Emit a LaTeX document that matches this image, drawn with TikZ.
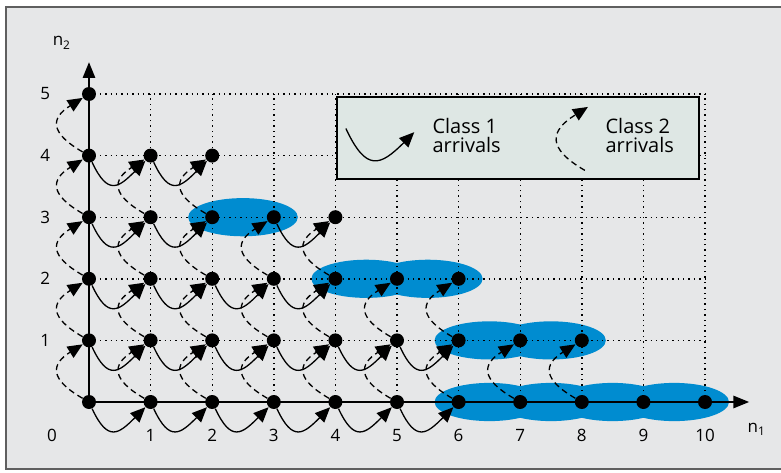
\documentclass[tikz,border=0pt]{standalone}
\usepackage{fontspec}
\setmainfont{Open Sans}
\usetikzlibrary{arrows.meta}

\definecolor{bggrey}{RGB}{230,231,232}
\definecolor{legendfill}{RGB}{222,231,228}
\definecolor{regionblue}{RGB}{0,140,208}
\definecolor{framegrey}{RGB}{95,95,95}

\begin{document}
\begin{tikzpicture}[x=30.8pt, y=30.8pt,
  font=\fontsize{8.5}{10}\selectfont,
  state/.style={circle, fill=black, inner sep=0pt, minimum size=7pt},
  gridline/.style={dotted, line width=0.7pt},
  axis/.style={line width=1.4pt, -{Triangle[length=8pt,width=6pt]}},
  class1/.style={line width=0.65pt, -{Triangle[length=7.5pt,width=6.5pt]}, out=-65, in=-135, looseness=1.8},
  class2/.style={line width=0.65pt, dash pattern=on 3pt off 2pt, -{Triangle[length=7.5pt,width=6.5pt]}, out=150, in=-148, looseness=1.8},
  region/.style={fill=regionblue},
  legendbox/.style={draw, line width=0.8pt, fill=legendfill, minimum width=181pt, minimum height=41pt, inner sep=0pt},
  legendtext/.style={font=\fontsize{10}{9.5}\selectfont, align=left, anchor=west, inner sep=0pt}
]
\useasboundingbox (-1.4448,-1.1364) rectangle (11.2338,6.526);
\fill[white] (-1.4448,-1.1364) rectangle (11.2338,6.526);
\filldraw[fill=bggrey, draw=framegrey, line width=0.9pt] (-1.347,-1.085) rectangle (11.4,6.41);

% blocking states
\foreach \x/\y in {2.5/3, 4.5/2, 5.5/2, 6.5/1, 7.5/1, 6.5/0, 7.5/0, 8.5/0, 9.5/0}
  \fill[region] (\x,\y) ellipse [x radius=0.89, y radius=0.31];

% grid
\foreach \j in {1,...,5}
  \draw[gridline] (0,\j) -- (10,\j);
\foreach \i in {1,...,10}
  \draw[gridline] (\i,0) -- (\i,5);

% axes
\coordinate (n1end) at (10.72,0);
\coordinate (n2end) at (0,5.52);
\draw[axis] (0,0) -- (n1end);
\draw[axis] (0,0) -- (n2end);
\node (n1lab) at (10.84,-0.45) {n\textsubscript{1}};
\node (n2lab) at (-0.44,5.83) {n\textsubscript{2}};
\node (x0) at (-0.6,-0.54) {0};
\foreach \i in {1,...,10}
  \node (x\i) at (\i,-0.54) {\i};
\foreach \j in {1,...,5}
  \node (y\j) at (-0.71,\j) {\j};

% legend
\node[legendbox] (legend) at (6.964,4.286) {};
\coordinate (c1from) at (4.17,4.44);
\coordinate (c1to) at (5.28,4.38);
\draw[class1] (c1from) to (c1to);
\node[legendtext] (c1text) at (5.57,4.32) {Class 1\\arrivals};
\coordinate (c2from) at (8.05,3.76);
\coordinate (c2to) at (8.10,4.79);
\draw[class2] (c2from) to (c2to);
\node[legendtext] (c2text) at (8.38,4.32) {Class 2\\arrivals};

% states
\foreach \j/\m in {0/10,1/8,2/6,3/4,4/2,5/0}
  \foreach \i in {0,...,\m}
    \node[state] (s\i-\j) at (\i,\j) {};

% class 1 arrivals
\foreach \j/\list in {0/{0,...,5},1/{0,...,5},2/{0,...,3},3/{0,1,3},4/{0,1}}
  \foreach \i in \list {
    \pgfmathtruncatemacro{\nxt}{\i+1}
    \draw[class1] (s\i-\j) to (s\nxt-\j);
  }

% class 2 arrivals
\foreach \i/\m in {0/4,1/3,2/3,3/2,4/2,5/1,6/1,7/0,8/0}
  \foreach \j in {0,...,\m} {
    \pgfmathtruncatemacro{\up}{\j+1}
    \draw[class2] (s\i-\j) to (s\i-\up);
  }
\end{tikzpicture}
\end{document}
